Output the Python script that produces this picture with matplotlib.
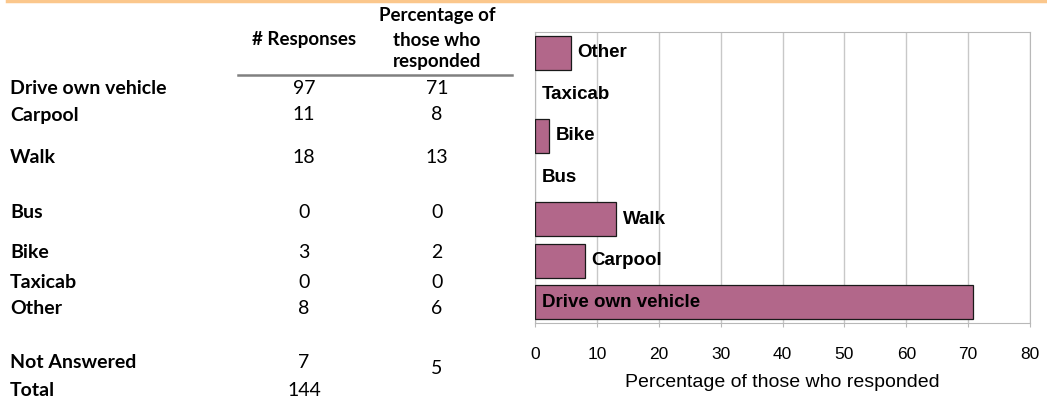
import matplotlib.pyplot as plt
from matplotlib.lines import Line2D

# table data
modos = ['Drive own vehicle', 'Carpool', 'Walk', 'Bus', 'Bike', 'Taxicab', 'Other']
respuestas = [97, 11, 18, 0, 3, 0, 8]
porcentajes_tabla = [71, 8, 13, 0, 2, 0, 6]
no_respondio = 7
no_respondio_pct = 5
total = 144

# bar values (percent of those who responded)
porcentajes = [70.8, 8.0, 13.1, 0.0, 2.2, 0.0, 5.8]

W, H = 1047, 400
TABLA_FONT = ['Lato', 'DejaVu Sans']
CHART_FONT = ['Liberation Sans', 'DejaVu Sans']
FS_TABLA = 14
FS_HEAD = 13.5


def fx(px):
    return px / W


def fy(py):
    return 1 - py / H


def crear_grafico():
    fig = plt.figure(figsize=(W / 100, H / 100), dpi=100)

    # orange line at the top
    fig.add_artist(Line2D([fx(7), 1], [fy(1), fy(1)], color='#FBC78C', lw=2.5,
                          transform=fig.transFigure))

    # table headers
    fig.text(fx(304), fy(40), '# Responses', ha='center', va='center',
             fontsize=FS_HEAD, fontweight='bold', family=TABLA_FONT)
    for texto, y in [('Percentage of', 16), ('those who', 40), ('responded', 62)]:
        fig.text(fx(437), fy(y), texto, ha='center', va='center',
                 fontsize=FS_HEAD, fontweight='bold', family=TABLA_FONT)
    fig.add_artist(Line2D([fx(238), fx(512)], [fy(75), fy(75)], color='#808080',
                          lw=1.8, transform=fig.transFigure))

    filas_y = [88, 115, 157, 212, 253, 282, 308]
    for modo, n, p, y in zip(modos, respuestas, porcentajes_tabla, filas_y):
        fig.text(fx(10), fy(y), modo, ha='left', va='center', fontsize=FS_TABLA,
                 fontweight='bold', family=TABLA_FONT)
        fig.text(fx(304), fy(y), str(n), ha='center', va='center', fontsize=FS_TABLA,
                 family=TABLA_FONT)
        fig.text(fx(437), fy(y), str(p), ha='center', va='center', fontsize=FS_TABLA,
                 family=TABLA_FONT)

    fig.text(fx(10), fy(363), 'Not Answered', ha='left', va='center', fontsize=FS_TABLA,
             fontweight='bold', family=TABLA_FONT)
    fig.text(fx(304), fy(363), str(no_respondio), ha='center', va='center',
             fontsize=FS_TABLA, family=TABLA_FONT)
    fig.text(fx(437), fy(368), str(no_respondio_pct), ha='center', va='center',
             fontsize=FS_TABLA, family=TABLA_FONT)
    fig.text(fx(10), fy(391), 'Total', ha='left', va='center', fontsize=FS_TABLA,
             fontweight='bold', family=TABLA_FONT)
    fig.text(fx(304), fy(391), str(total), ha='center', va='center',
             fontsize=FS_TABLA, family=TABLA_FONT)

    # bar chart
    ax = fig.add_axes([fx(535), fy(323), fx(1030) - fx(535), fy(32) - fy(323)])
    pos = list(range(len(modos)))
    bordes = [0.9 if v > 0 else 0 for v in porcentajes]
    ax.barh(pos, porcentajes, height=0.82, color='#B2678A', edgecolor='#1a1a1a',
            linewidth=bordes, zorder=3)
    ax.set_xlim(0, 80)
    ax.set_ylim(-0.5, len(modos) - 0.5)
    ax.set_xticks(range(0, 81, 10))
    ax.set_yticks([])
    ax.grid(axis='x', color='#C8C8C8', lw=1, zorder=0)
    for s in ax.spines.values():
        s.set_color('#B8B8B8')
    ax.tick_params(axis='x', colors='#B8B8B8', length=3, labelcolor='black',
                   labelsize=12.5, pad=14)
    for lab in ax.get_xticklabels():
        lab.set_family(CHART_FONT)
    ax.set_xlabel('Percentage of those who responded', fontsize=14,
                  family=CHART_FONT, labelpad=9)

    for i, (modo, v) in enumerate(zip(modos, porcentajes)):
        x = 1.1 if v > 40 else v + 1.1
        ax.text(x, i, modo, ha='left', va='center', fontsize=13.5,
                fontweight='bold', family=CHART_FONT, zorder=4)

    fig.savefig('out.png', dpi=100)


def main():
    crear_grafico()


if __name__ == "__main__":
    main()
